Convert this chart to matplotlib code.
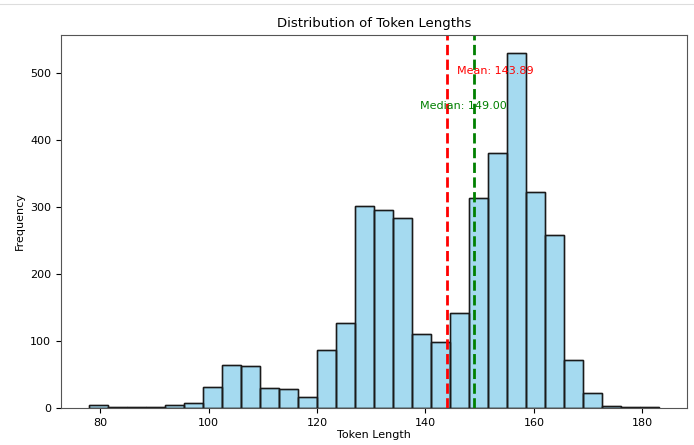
import numpy as np
import matplotlib
matplotlib.use("Agg")
import matplotlib.pyplot as plt
from matplotlib.lines import Line2D

# ----------------------------
# Histogram data (30 bins, 78 -> 183)
# ----------------------------
bin_edges = np.linspace(78, 183, 31)
counts = [5, 1, 1, 1, 4, 7, 31, 64, 63, 30,
          28, 16, 87, 127, 302, 295, 283, 111, 99, 141,
          313, 380, 530, 323, 258, 71, 22, 3, 2, 1]
mean_len = 143.89
median_len = 149.00

# ----------------------------
# Plot
# ----------------------------
fig = plt.figure(figsize=(6.94, 4.45), dpi=100)
ax = fig.add_axes([61 / 694, 37 / 445, 626 / 694, 373 / 445])

centers = (bin_edges[:-1] + bin_edges[1:]) / 2
ax.hist(centers, bins=bin_edges, weights=counts,
        color='skyblue', alpha=0.75, edgecolor='black')
# crisp outlines on top of the faded fill
ax.hist(centers, bins=bin_edges, weights=counts,
        histtype='bar', fill=False, edgecolor='#1a1a1a', linewidth=1)

ax.axvline(mean_len, color='red', linestyle='--', linewidth=2)
ax.axvline(median_len, color='green', linestyle='--', linewidth=2)

top = max(counts)
ax.text(mean_len + 2, top * 0.95, f"Mean: {mean_len:.2f}",
        color='red', fontsize=8, va='center')
ax.text(median_len - 10, top * 0.85, f"Median: {median_len:.2f}",
        color='green', fontsize=8, va='center')

ax.set_title("Distribution of Token Lengths", fontsize=9.5)
ax.set_xlabel("Token Length", fontsize=8, labelpad=2)
ax.set_ylabel("Frequency", fontsize=8)
ax.tick_params(labelsize=8)

for s in ax.spines.values():
    s.set_color('#555555')

# faint notebook border at the top
fig.add_artist(Line2D([0, 1], [441 / 445, 441 / 445], color='#dddddd', linewidth=0.8))

fig.savefig("out.png", dpi=100)
